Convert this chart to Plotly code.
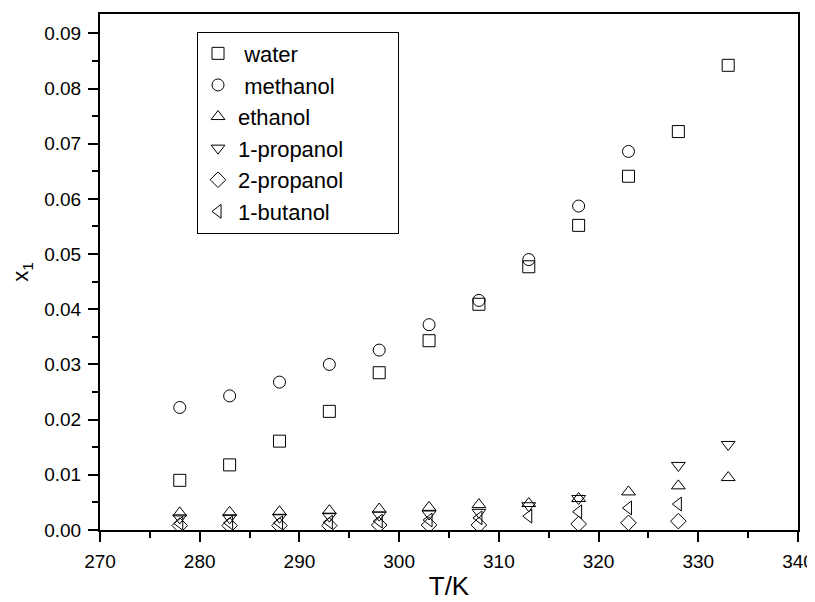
import plotly.graph_objects as go

T_water = [278, 283, 288, 293, 298, 303, 308, 313, 318, 323, 328, 333]
x_water = [0.0090, 0.0118, 0.0161, 0.0215, 0.0285, 0.0343, 0.0409, 0.0477, 0.0552, 0.0641, 0.0722, 0.0842]

T_methanol = [278, 283, 288, 293, 298, 303, 308, 313, 318, 323]
x_methanol = [0.0222, 0.0243, 0.0268, 0.0300, 0.0326, 0.0372, 0.0416, 0.0490, 0.0587, 0.0686]

T_ethanol = [278, 283, 288, 293, 298, 303, 308, 313, 318, 323, 328, 333]
x_ethanol = [0.0031, 0.0032, 0.0033, 0.0035, 0.0038, 0.0041, 0.0046, 0.0048, 0.0057, 0.0069, 0.0080, 0.0095]

T_1propanol = [278, 283, 288, 293, 298, 303, 308, 313, 318, 328, 333]
x_1propanol = [0.0022, 0.0022, 0.0023, 0.0025, 0.0027, 0.0029, 0.0032, 0.0044, 0.0057, 0.0117, 0.0155]

T_2propanol = [278, 283, 288, 293, 298, 303, 308, 318, 323, 328]
x_2propanol = [0.0008, 0.0008, 0.0008, 0.0008, 0.0009, 0.0009, 0.0009, 0.0011, 0.0013, 0.0016]

T_1butanol = [278, 283, 288, 293, 298, 303, 308, 313, 318, 323, 328]
x_1butanol = [0.0012, 0.0013, 0.0013, 0.0014, 0.0016, 0.0018, 0.0022, 0.0025, 0.0033, 0.0040, 0.0047]

PAD = "\u00a0" * 8
series = [
    (" water", T_water, x_water, "square-open"),
    (" methanol", T_methanol, x_methanol, "circle-open"),
    ("ethanol", T_ethanol, x_ethanol, "triangle-up-open"),
    ("1-propanol" + PAD, T_1propanol, x_1propanol, "triangle-down-open"),
    ("2-propanol" + PAD, T_2propanol, x_2propanol, "diamond-open"),
    ("1-butanol", T_1butanol, x_1butanol, "triangle-left-open"),
]

FONT = "Liberation Sans, Arial, sans-serif"

fig = go.Figure()
for i, (name, tx, yv, sym) in enumerate(series):
    fig.add_trace(go.Scatter(
        x=tx, y=yv, mode="markers", name=name, legendgroup=f"g{i}",
        marker=dict(symbol=sym, size=12, color="black", line=dict(color="black", width=1)),
    ))

axis_common = dict(
    showline=True, linecolor="black", linewidth=2, mirror=True,
    ticks="outside", tickcolor="black", ticklen=10, tickwidth=2,
    showgrid=False, zeroline=False, automargin=False,
    ticklabelstandoff=3,
    tickfont=dict(family=FONT, size=19, color="black"),
    minor=dict(ticks="outside", ticklen=6, tickcolor="black", tickwidth=1.5),
)

fig.update_xaxes(range=[270, 340], dtick=10, tick0=270,
                 title=dict(text="T/K", font=dict(family=FONT, size=26, color="black"), standoff=6),
                 minor_dtick=5, **axis_common)
fig.update_yaxes(range=[0, 0.0935], dtick=0.01, tick0=0, tickformat=".2f",
                 title=dict(text="x<sub>1</sub>", font=dict(family=FONT, size=22, color="black"), standoff=12),
                 minor_dtick=0.005, **axis_common)

# page body has a default 8px margin; the figure is sized/positioned to compensate
fig.update_layout(
    width=807, height=594,
    margin=dict(l=92, r=17, t=6, b=72),
    plot_bgcolor="white", paper_bgcolor="white",
    font=dict(family=FONT, color="black"),
    legend=dict(
        x=0.139, y=0.966, xanchor="left", yanchor="top",
        bordercolor="black", borderwidth=1, bgcolor="white",
        font=dict(family=FONT, size=22, color="black"),
        tracegroupgap=0, itemwidth=30,
    ),
)

fig.write_html("out.html")
